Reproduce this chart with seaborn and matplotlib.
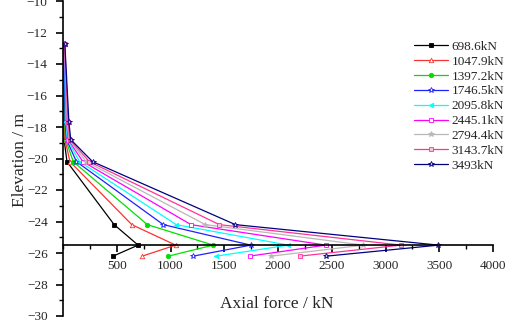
import matplotlib
matplotlib.use("Agg")
import matplotlib.pyplot as plt
import seaborn as sns
import pandas as pd
from matplotlib.ticker import MultipleLocator

sns.set_theme(style="ticks")
plt.rcParams['font.family'] = ['Liberation Serif', 'DejaVu Serif']

elevation = [-12.7, -17.7, -18.8, -20.2, -24.2, -25.5, -26.2]
labels = ["698.6kN", "1047.9kN", "1397.2kN", "1746.5kN", "2095.8kN",
          "2445.1kN", "2794.4kN", "3143.7kN", "3493kN"]
f_698 = [5, 5, 10, 37, 476, 698.6, 466]
f_1048 = [8, 10, 18, 65, 640, 1047.9, 737]
f_1397 = [10, 15, 25, 95, 785, 1397.2, 979]
f_1747 = [11, 20, 33, 125, 933, 1746.5, 1210]
f_2096 = [12, 28, 40, 155, 1054, 2095.8, 1425]
f_2445 = [13, 34, 48, 185, 1191, 2445.1, 1735]
f_2794 = [14, 40, 55, 215, 1325, 2794.4, 1937]
f_3144 = [15, 47, 63, 245, 1455, 3143.7, 2201]
f_3493 = [17, 55, 72, 275, 1604, 3493, 2450]
series = [f_698, f_1048, f_1397, f_1747, f_2096, f_2445, f_2794, f_3144, f_3493]

colors = ["#000000", "#FF3030", "#00E000", "#2020FF", "#00FFFF",
          "#FF00FF", "#B8B8B8", "#FF3399", "#000080"]
markers = ["s", "^", "o", "*", "<", "s", "*", "s", "*"]
faces = ["#000000", "white", "#00E000", "white", "#00FFFF",
         "white", "#B8B8B8", "#FFC0E0", "#C8C8F0"]

fig = plt.figure(figsize=(5.11, 3.24), dpi=100)
ax = fig.add_axes([63/511, 1 - 316/324, (493-63)/511, 315/324])

for lab, vals, c, m, fc in zip(labels, series, colors, markers, faces):
    df = pd.DataFrame({"force": vals, "elev": elevation})
    sns.lineplot(data=df, x="force", y="elev", sort=False, estimator=None,
                 ax=ax, color=c, marker=m, markersize=4.0 if m == "*" else 3.2,
                 markerfacecolor=fc, markeredgecolor=c, markeredgewidth=0.6,
                 linewidth=0.9, label=lab)

ax.set_xlim(0, 4000)
ax.set_ylim(-30, -10)
ax.spines['top'].set_visible(False)
ax.spines['right'].set_visible(False)
ax.spines['bottom'].set_position(('data', -25.5))
ax.spines['left'].set_position(('data', 0))
for s in ('bottom', 'left'):
    ax.spines[s].set_linewidth(1.2)
    ax.spines[s].set_color('black')

ax.set_xticks([500, 1000, 1500, 2000, 2500, 3000, 3500, 4000])
ax.xaxis.set_minor_locator(MultipleLocator(250))
ax.yaxis.set_major_locator(MultipleLocator(2))
ax.yaxis.set_minor_locator(MultipleLocator(1))
ax.tick_params(axis='both', which='major', direction='out', length=5, width=1.2,
               labelsize=9.5, color='black')
ax.tick_params(axis='both', which='minor', direction='out', length=3, width=1.0,
               color='black')
ax.tick_params(axis='x', which='major', pad=6)
ax.tick_params(axis='y', which='major', pad=6)

ax.set_xlabel("Axial force / kN", fontsize=12.5)
ax.set_ylabel("Elevation / m", fontsize=12.5)
ax.xaxis.set_label_coords(277/511, 1 - 304/324, transform=fig.transFigure)
ax.yaxis.set_label_coords(20/511, 1 - 160/324, transform=fig.transFigure)
ax.xaxis.label.set_va('center')
ax.yaxis.label.set_va('center')

leg = ax.legend(loc='upper left', bbox_to_anchor=(407/511, 1 - 34/324),
                bbox_transform=fig.transFigure, frameon=False, fontsize=9.5,
                handlelength=2.6, handletextpad=0.3, labelspacing=0.2,
                borderpad=0)

fig.savefig("out.png", dpi=100)
